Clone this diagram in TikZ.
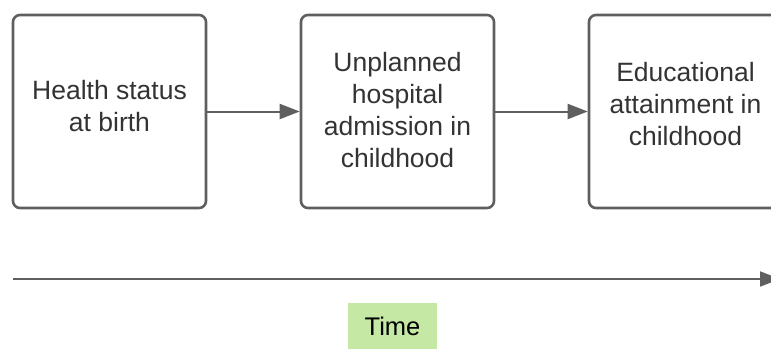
\documentclass[tikz,border=0pt]{standalone}
\usepackage{fontspec}
\setmainfont{Liberation Sans}
\usetikzlibrary{arrows.meta}
\definecolor{edgegray}{HTML}{5F5F5F}
\definecolor{textgray}{HTML}{333333}
\definecolor{timegreen}{HTML}{C5E8A5}
\begin{document}
\begin{tikzpicture}[x=1pt,y=-1pt,
  stage/.style={draw=edgegray, line width=2.6pt, rounded corners=7pt, fill=white,
    minimum width=193pt, minimum height=193pt, inner sep=0pt},
  stagetext/.style={text=textgray, font=\fontsize{26.5}{32}\selectfont, align=center},
  flow/.style={draw=edgegray, line width=2pt,
    -{Triangle[length=20pt,width=15pt]}},
  timetag/.style={fill=timegreen, minimum width=89pt, minimum height=46pt, inner sep=0pt,
    font=\fontsize{25.5}{28}\selectfont, text=black}
]
\useasboundingbox (0,0) rectangle (771,349);
\clip (0,0) rectangle (771,349);

% stages along the life course
\node[stage] (birth) at (109.5,111.5) {};
\node[stage] (admit) at (397.5,111.5) {};
\node[stage] (educ)  at (685.5,111.5) {};

\node[stagetext] at (109.5,106) {Health status\\at birth};
\node[stagetext] at (397.5,110) {Unplanned\\hospital\\admission in\\childhood};
\node[stagetext] at (685.5,104) {Educational\\attainment in\\childhood};

\draw[flow] (birth.east) -- (admit.west);
\draw[flow] (admit.east) -- (educ.west);

% time axis
\coordinate (t0) at (13,279);
\coordinate (t1) at (780,279);
\draw[flow] (t0) -- (t1);

\node[timetag] (time) at (392.5,326) {Time};
\end{tikzpicture}
\end{document}
